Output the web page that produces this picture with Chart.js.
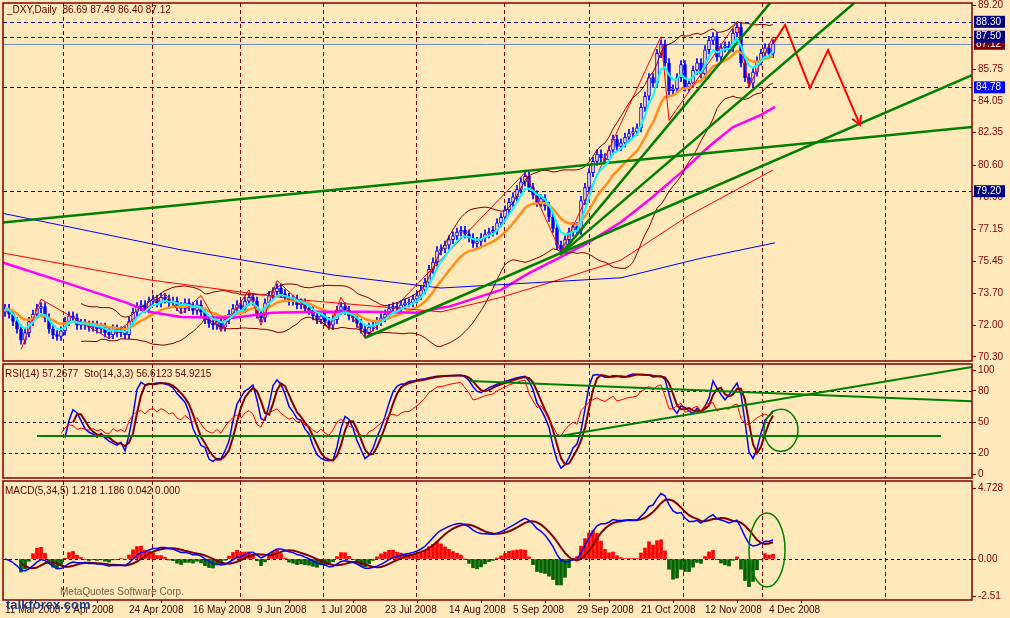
<!DOCTYPE html>
<html lang="en">
<head>
<meta charset="UTF-8">
<title>_DXY Daily</title>
<script src="https://cdn.jsdelivr.net/npm/chart.js"></script>
<style>
  body { margin: 0; background: #FFE8BA; width: 1010px; height: 618px; overflow: hidden; position: relative; }
  canvas { position: absolute; left: 0; }
  .txt { position: absolute; font: 10px 'Liberation Sans', Arial, sans-serif; color: #600000; white-space: pre; }
</style>
</head>
<body>
<canvas id="priceChart" width="1010" height="362" style="top:0"></canvas>
<canvas id="rsiChart" width="1010" height="117" style="top:362px"></canvas>
<canvas id="macdChart" width="1010" height="139" style="top:479px"></canvas>
<div class="txt" style="left:7px;top:4px">_DXY,Daily  86.69 87.49 86.40 87.12</div>
<div class="txt" style="left:5px;top:368px">RSI(14) 57.2677  Sto(14,3,3) 56.6123 54.9215</div>
<div class="txt" style="left:5px;top:485px">MACD(5,34,5) 1.218 1.186 0.042 0.000</div>
<div class="txt" style="left:60px;top:586px;color:#7a5a40">MetaQuotes Software Corp.</div>
<div class="txt" style="left:6px;top:597px;font-size:13px;font-weight:bold;color:#1a3a8a">talkforex.com</div>
<script>
// daily closes, 11 Mar 2008 .. 8 Dec 2008
const closes = [
  72.9, 72.6, 72.2, 71.8, 71.2, 71.6, 72.2, 72.6, 72.9, 73.0,
  72.4, 71.8, 71.5, 71.4, 71.7, 72.2, 72.5, 72.4, 72.0, 72.1,
  72.0, 71.9, 72.0, 71.8, 71.9, 71.6, 71.5, 71.8, 71.6, 71.7,
  71.5, 72.2, 72.7, 73.0, 73.1, 72.9, 73.3, 73.4, 73.2, 73.5,
  73.4, 73.2, 73.3, 73.0, 72.9, 73.2, 73.0, 72.8, 73.1, 72.7,
  72.3, 72.1, 72.0, 72.2, 71.9, 72.3, 72.6, 72.9, 73.1, 72.9,
  73.3, 73.5, 73.3, 72.6, 72.4, 73.2, 73.6, 73.8, 74.0, 73.7,
  73.5, 73.3, 73.4, 73.1, 73.2, 72.9, 72.8, 72.5, 72.3, 72.5,
  72.2, 72.0, 72.3, 72.8, 73.0, 72.8, 72.5, 72.4, 72.1, 71.8,
  71.6, 71.9, 72.0, 72.2, 72.4, 72.6, 72.9, 73.0, 72.9, 73.1,
  73.2, 73.2, 73.4, 73.6, 73.9, 74.3, 75.0, 75.4, 76.0, 76.1,
  76.3, 76.6, 76.8, 77.0, 77.1, 76.9, 76.7, 76.4, 76.5, 76.7,
  76.9, 77.0, 77.1, 77.5, 77.8, 78.2, 78.6, 78.9, 79.3, 79.7,
  80.0, 79.4, 79.0, 78.6, 78.8, 78.4, 77.8, 77.2, 76.3, 76.1,
  76.6, 77.0, 77.3, 77.1, 78.7, 79.4, 80.2, 80.8, 81.2, 81.0,
  80.9, 81.4, 82.0, 81.6, 81.8, 82.1, 82.3, 82.4, 82.6, 83.7,
  84.3, 85.3, 85.0, 86.6, 87.1, 86.1, 84.6, 84.7, 85.3, 86.0,
  84.8, 85.0, 85.7, 86.1, 85.5, 86.8, 87.3, 87.5, 86.4, 86.9,
  87.0, 86.9, 87.7, 88.0, 86.1, 85.3, 85.0, 85.6, 86.2, 86.6,
  86.9, 86.6, 87.12
];
const firstOpen = 72.7;

// long moving averages, read at points [bar index, value]
const sma200Pts = [[-1, 78.03], [44, 76.05], [82, 74.7], [109, 74.0], [132, 74.28], [154, 74.55], [174, 75.6], [192.5, 76.43]];
const sma100Pts = [[-1, 75.9], [36, 74.44], [74, 73.36], [109, 72.72], [124, 73.5], [136, 74.28], [154, 75.5], [171, 77.9], [192, 80.34]];
const sma50Pts = [[-1, 75.4], [14.5, 74.33], [30.5, 73.2], [36, 72.72], [44, 72.45], [57, 72.4], [67, 72.67], [78, 72.72], [90.5, 72.72], [103, 72.67], [109, 72.94], [111, 73.0], [124, 73.9], [131, 74.8], [139, 75.67], [145.5, 76.4], [154, 77.55], [161, 78.73], [169, 80.2], [176, 81.6], [182, 82.65], [189, 83.3], [192.5, 83.73]];
const zigzagPts = [[4, 70.7], [9, 73.4], [26, 71.3], [40, 73.7], [44, 72.6], [49, 73.6], [54, 71.7], [61, 73.9], [64, 72.0], [68, 74.4], [81, 71.8], [84, 73.5], [90, 71.3], [130, 80.2], [139, 75.9], [164, 87.5], [166, 83.0], [183, 88.3], [186, 84.8], [192, 87.5]];

// hand drawn objects
const trendMain = [
  [[-1.25, 77.5], [241.75, 82.65]],
  [[90, 71.33], [241.75, 85.44]],
  [[138.75, 75.78], [191.25, 89.3]],
  [[138.75, 75.78], [212.25, 89.3]]
];
const arrowPts = [[192, 87.12], [195, 88.13], [201.25, 84.74], [205.75, 86.78], [213.75, 82.76]];
const trendRsi = [
  [[8, 36.5], [234, 36.5]],
  [[138.75, 36.5], [241.75, 103]],
  [[116.25, 89.4], [241.75, 70]]
];
// drawn in this order, so the bid box sits under the 87.50 box
const levels = [
  { v: 87.12, box: '#800000', dash: false },
  { v: 88.30, box: '#000080', dash: true },
  { v: 87.50, box: '#000080', dash: true },
  { v: 84.78, box: '#0000FF', dash: true },
  { v: 79.20, box: '#000080', dash: true }
];

const priceTicks = [89.20, 85.75, 84.05, 82.35, 80.60, 78.90, 77.15, 75.45, 73.70, 72.00, 70.30];
const rsiTicks = [100, 80, 50, 20, 0];
const macdTicks = [4.728, 0, -2.51];
const dateIdx = [0, 15, 31, 47, 63, 79, 95, 111, 127, 143, 159, 175, 191];
const dateLabels = ['11 Mar 2008', '2 Apr 2008', '24 Apr 2008', '16 May 2008', '9 Jun 2008', '1 Jul 2008', '23 Jul 2008', '14 Aug 2008', '5 Sep 2008', '29 Sep 2008', '21 Oct 2008', '12 Nov 2008', '4 Dec 2008'];
const vGridIdx = [14.5, 36.75, 58.75, 79.5, 102.75, 124.75, 146, 169.5, 189.25, 220];

const BG = '#FFE8BA', AXIS = '#800000', FONT = "'Liberation Sans', Arial, sans-serif";

// indicator helpers
function ema(a, n) { const k = 2 / (n + 1); let out = [], e = a[0]; a.forEach((v, i) => { e = i ? v * k + e * (1 - k) : v; out.push(e); }); return out; }
function sma(a, n) { return a.map((v, i) => i < n - 1 ? null : a.slice(i - n + 1, i + 1).reduce((s, x) => s + x, 0) / n); }
function xy(a) { return a.map((v, i) => ({ x: i, y: v })); }
function pts(p) { return p.map(q => ({ x: q[0], y: q[1] })); }

const opens = closes.map((c, i) => i ? closes[i - 1] : firstOpen);
const highs = closes.map((c, i) => Math.max(c, opens[i]) + 0.22);
const lows = closes.map((c, i) => Math.min(c, opens[i]) - 0.22);

const ema5 = ema(closes, 5), ema13 = ema(closes, 13);
const mid20 = sma(closes, 20);
const bbUp = [], bbDn = [];
closes.forEach((c, i) => {
  if (i < 19) { bbUp.push(null); bbDn.push(null); return; }
  const w = closes.slice(i - 19, i + 1), m = mid20[i];
  const sd = Math.sqrt(w.reduce((s, x) => s + (x - m) ** 2, 0) / 20);
  bbUp.push(m + 2 * sd); bbDn.push(m - 2 * sd);
});

// RSI 14
const rsi = [null]; let ag = 0, al = 0;
for (let i = 1; i < closes.length; i++) {
  const d = closes[i] - closes[i - 1], g = Math.max(d, 0), l = Math.max(-d, 0);
  if (i <= 14) { ag += g / 14; al += l / 14; rsi.push(i < 14 ? null : 100 - 100 / (1 + ag / (al || 1e-9))); }
  else { ag = (ag * 13 + g) / 14; al = (al * 13 + l) / 14; rsi.push(100 - 100 / (1 + ag / (al || 1e-9))); }
}
// Stochastic 14,3,3
const rawK = closes.map((c, i) => {
  if (i < 13) return null;
  const hh = Math.max(...highs.slice(i - 13, i + 1)), ll = Math.min(...lows.slice(i - 13, i + 1));
  return (c - ll) / (hh - ll) * 100;
});
const avg3 = a => a.map((v, i) => (i < 2 || a[i - 2] == null) ? null : (a[i] + a[i - 1] + a[i - 2]) / 3);
const stK = avg3(rawK), stD = avg3(stK);

// MACD 5,34,5
const ema34 = ema(closes, 34);
const macd = ema(closes, 5).map((v, i) => v - ema34[i]);
const signal = sma(macd, 5);
const osma = macd.map((v, i) => signal[i] == null ? null : (v - signal[i]) * 2);

// plugins
const framePlugin = {
  id: 'frame',
  beforeDraw(c) { const x = c.ctx; x.save(); x.fillStyle = BG; x.fillRect(0, 0, c.width, c.height); x.restore(); },
  beforeDatasetsDraw(c) {
    const x = c.ctx, a = c.chartArea, sx = c.scales.x;
    x.save(); x.strokeStyle = AXIS; x.lineWidth = 1; x.setLineDash([4, 3]);
    vGridIdx.forEach(v => { const px = Math.round(sx.getPixelForValue(v)) + 0.5; x.beginPath(); x.moveTo(px, a.top); x.lineTo(px, a.bottom); x.stroke(); });
    const lv = c.options.plugins.frame.hLevels || [];
    x.strokeStyle = '#000'; x.setLineDash([3, 3]);
    lv.forEach(v => { const py = Math.round(c.scales.y.getPixelForValue(v)) + 0.5; x.beginPath(); x.moveTo(a.left, py); x.lineTo(a.right, py); x.stroke(); });
    x.restore();
  },
  afterDraw(c) {
    const x = c.ctx, a = c.chartArea;
    x.save(); x.strokeStyle = AXIS; x.lineWidth = 1.5;
    x.strokeRect(a.left, a.top, a.right - a.left, a.bottom - a.top);
    const ell = c.options.plugins.frame.ellipse;
    if (ell) {
      x.strokeStyle = '#008000'; x.lineWidth = 1.5; x.beginPath();
      x.ellipse(c.scales.x.getPixelForValue(ell.i), c.scales.y.getPixelForValue(ell.v), ell.rx, ell.ry, 0, 0, Math.PI * 2); x.stroke();
    }
    x.restore();
  }
};
const levelPlugin = {
  id: 'levels',
  beforeDatasetsDraw(c) {
    const x = c.ctx, a = c.chartArea, sy = c.scales.y;
    x.save();
    levels.forEach(l => {
      const py = Math.round(sy.getPixelForValue(l.v)) + 0.5;
      x.strokeStyle = l.dash ? '#000080' : '#7090C0'; x.setLineDash(l.dash ? [4, 3] : []);
      x.beginPath(); x.moveTo(a.left, py); x.lineTo(a.right, py); x.stroke();
    });
    x.restore();
  },
  afterDraw(c) {
    const x = c.ctx, a = c.chartArea, sy = c.scales.y;
    x.save(); x.font = '10px ' + FONT; x.textBaseline = 'middle';
    levels.forEach(l => {
      const py = sy.getPixelForValue(l.v);
      x.fillStyle = l.box; x.fillRect(a.right + 2, py - 6, 31, 12);
      x.fillStyle = '#fff'; x.fillText(l.v.toFixed(2), a.right + 4, py);
    });
    // arrow head on the red path
    const p1 = arrowPts[arrowPts.length - 2], p2 = arrowPts[arrowPts.length - 1];
    const x1 = c.scales.x.getPixelForValue(p1[0]), y1 = sy.getPixelForValue(p1[1]);
    const x2 = c.scales.x.getPixelForValue(p2[0]), y2 = sy.getPixelForValue(p2[1]);
    const ang = Math.atan2(y2 - y1, x2 - x1);
    x.strokeStyle = '#FF0000'; x.lineWidth = 2; x.beginPath();
    x.moveTo(x2 - 10 * Math.cos(ang - 0.5), y2 - 10 * Math.sin(ang - 0.5)); x.lineTo(x2, y2);
    x.lineTo(x2 - 10 * Math.cos(ang + 0.5), y2 - 10 * Math.sin(ang + 0.5)); x.stroke();
    x.restore();
  }
};

function line(data, color, width, extra) {
  return Object.assign({ type: 'line', data, borderColor: color, borderWidth: width, pointRadius: 0, tension: 0, spanGaps: false, order: 1 }, extra || {});
}

function opts(yMin, yMax, ticks, fmt, padTop, padBottom, showX, frameOpts) {
  return {
    responsive: false, animation: false, events: [],
    layout: { padding: { left: 3, right: 0, top: padTop, bottom: padBottom } },
    plugins: { legend: { display: false }, tooltip: { enabled: false }, frame: frameOpts || {} },
    scales: {
      x: {
        type: 'linear', min: -0.5, max: 241.75, offset: false, display: showX,
        afterBuildTicks: s => { s.ticks = dateIdx.map(v => ({ value: v })); },
        afterFit: s => { if (showX) s.height = 18; s.paddingLeft = 0; s.paddingRight = 0; },
        grid: { drawOnChartArea: false, color: AXIS, tickLength: 3 },
        border: { display: false },
        ticks: { align: 'start', maxRotation: 0, autoSkip: false, padding: 1, color: '#400000', font: { size: 10, family: FONT },
          callback: v => dateLabels[dateIdx.indexOf(v)] }
      },
      y: {
        position: 'right', min: yMin, max: yMax,
        afterBuildTicks: s => { s.ticks = ticks.map(v => ({ value: v })); },
        afterFit: s => { s.width = 38; s.paddingTop = 0; s.paddingBottom = 0; },
        grid: { drawOnChartArea: false, color: AXIS, tickLength: 4 },
        border: { display: false },
        ticks: { color: AXIS, padding: 2, font: { size: 10, family: FONT }, callback: fmt }
      }
    }
  };
}

// price panel
const candleWicks = closes.map((c, i) => ({ x: i, y: [lows[i], highs[i]] }));
const candleBodies = closes.map((c, i) => ({ x: i, y: [opens[i], Math.abs(c - opens[i]) < 0.03 ? opens[i] + 0.04 : c] }));
new Chart(document.getElementById('priceChart'), {
  type: 'bar',
  data: {
    datasets: [
      line(pts(sma200Pts), '#0000FF', 1),
      line(pts(sma100Pts), '#FF0000', 1),
      line(xy(bbUp), '#800000', 1),
      line(xy(bbDn), '#800000', 1),
      line(pts(zigzagPts), '#FF0000', 1),
      line(pts(sma50Pts), '#FF00FF', 2.5),
      line(xy(ema13), '#FF9020', 2.5),
      { type: 'bar', data: candleWicks, backgroundColor: '#0000FF', barThickness: 1, grouped: false, order: 3 },
      { type: 'bar', data: candleBodies, grouped: false, order: 2, barThickness: 3, borderWidth: 1, borderSkipped: false, borderColor: '#0000FF',
        backgroundColor: closes.map((c, i) => c >= opens[i] ? BG : '#0000FF') },
      line(xy(ema5), '#00FFFF', 2, { order: 0 }),
      ...trendMain.map(t => line(pts(t), '#008000', 2.5, { order: 0 })),
      line(pts(arrowPts), '#FF0000', 2, { order: 0 })
    ]
  },
  options: opts(70.08, 89.31, priceTicks, v => v.toFixed(2), 3, 1, false),
  plugins: [framePlugin, levelPlugin]
});

// RSI / stochastic panel
new Chart(document.getElementById('rsiChart'), {
  type: 'line',
  data: {
    datasets: [
      line(xy(rsi), '#FF0000', 1),
      line(xy(stD), '#800000', 2),
      line(xy(stK), '#0000FF', 1.5),
      ...trendRsi.map(t => line(pts(t), '#008000', 2, { order: 0 }))
    ]
  },
  options: opts(-3.8, 105.8, rsiTicks, v => String(v), 2, 1, false, { hLevels: [80, 50, 20], ellipse: { i: 194, v: 42, rx: 17, ry: 21 } }),
  plugins: [framePlugin]
});

// MACD panel
new Chart(document.getElementById('macdChart'), {
  type: 'bar',
  data: {
    datasets: [
      { type: 'bar', data: xy(osma), barThickness: 3, grouped: false, order: 3,
        backgroundColor: osma.map(v => v >= 0 ? '#FF0000' : '#006400') },
      line(xy(signal), '#800000', 2),
      line(xy(macd), '#0000FF', 1.5, { order: 0 })
    ]
  },
  options: opts(-2.73, 5.2, macdTicks, v => v === 0 ? '0.00' : String(v), 2, 0, true, { hLevels: [0], ellipse: { i: 190.5, v: 0.6, rx: 18, ry: 37 } }),
  plugins: [framePlugin]
});
</script>
</body>
</html>
